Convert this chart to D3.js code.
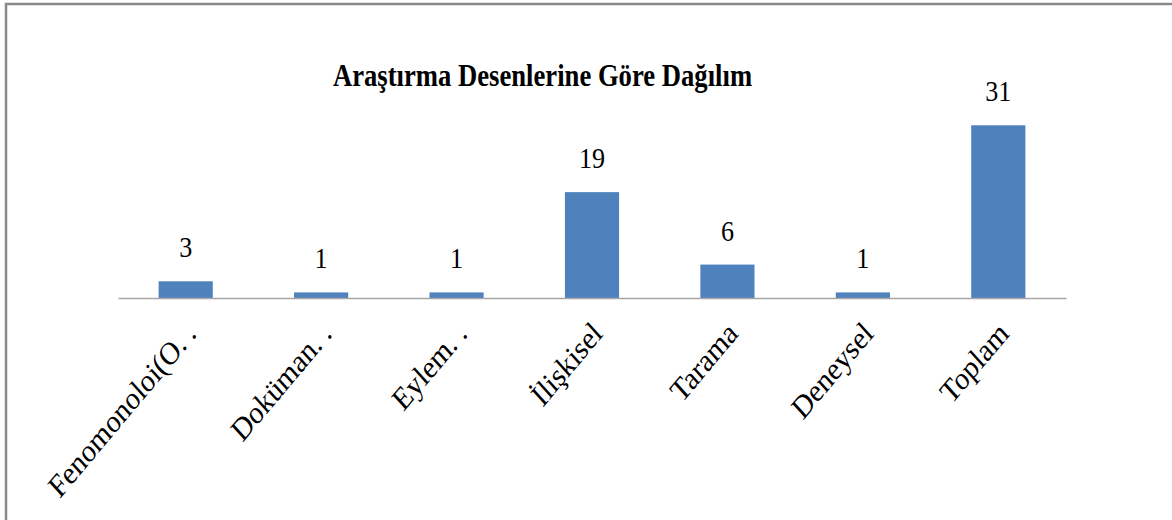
<!DOCTYPE html>
<html>
<head>
<meta charset="utf-8">
<script src="https://cdn.jsdelivr.net/npm/d3@7"></script>
<style>
  html, body { margin: 0; padding: 0; background: #ffffff; }
  svg { display: block; }
</style>
</head>
<body>
<svg id="chart" width="1172" height="520"></svg>
<script>
const title = "Araştırma Desenlerine Göre Dağılım";
const categories = ["Fenomonoloi(O. .", "Doküman. .", "Eylem. .", "İlişkisel", "Tarama", "Deneysel", "Toplam"];
const values = [3, 1, 1, 19, 6, 1, 31];

const svg = d3.select("#chart");
const W = 1172, H = 520;
const sx = 0.87; // horizontal compression of the reference's type

// outer frame (extends past the right and bottom edges)
svg.append("rect")
  .attr("x", 6).attr("y", 4)
  .attr("width", W + 20).attr("height", H + 20)
  .attr("fill", "none")
  .attr("stroke", "#8a8a8a")
  .attr("stroke-width", 2.5);

const x = d3.scaleBand().domain(categories).range([118, 1066])
  .paddingInner(0.6).paddingOuter(0.3);
const y = d3.scaleLinear().domain([0, 35]).range([298, 103]);

// bars
svg.append("g").selectAll("rect").data(values).join("rect")
  .attr("x", (d, i) => x(categories[i]))
  .attr("y", d => y(d))
  .attr("width", x.bandwidth())
  .attr("height", d => y(0) - y(d))
  .attr("fill", "#4f81bd");

// axis
const axis = d3.axisBottom(x).tickSize(0).tickFormat(() => "");
const ag = svg.append("g").attr("transform", `translate(0,${y(0)})`).call(axis);
ag.select(".domain").attr("stroke", "#a6a6a6").attr("stroke-width", 1.6);

// category labels rotated
const lab = svg.append("g").selectAll("g").data(categories).join("g")
  .attr("transform", d => `translate(${x(d) + x.bandwidth() / 2 + 12},335) scale(${sx},1) rotate(-46)`);
lab.append("text")
  .attr("text-anchor", "end")
  .attr("font-family", "'Liberation Serif', 'Times New Roman', serif")
  .attr("font-size", 32)
  .attr("fill", "#000")
  .text(d => d);

// value labels
const vl = svg.append("g").selectAll("g").data(values).join("g")
  .attr("transform", (d, i) => `translate(${x(categories[i]) + x.bandwidth() / 2},${y(d) - 24}) scale(${sx},1)`);
vl.append("text")
  .attr("text-anchor", "middle")
  .attr("font-family", "'Liberation Serif', 'Times New Roman', serif")
  .attr("font-size", 30)
  .attr("fill", "#000")
  .text(d => d);

// title
svg.append("g")
  .attr("transform", `translate(542.5,86) scale(0.86,1)`)
  .append("text")
  .attr("text-anchor", "middle")
  .attr("font-family", "'Liberation Serif', 'Times New Roman', serif")
  .attr("font-weight", "bold")
  .attr("font-size", 31)
  .attr("fill", "#000")
  .text(title);
</script>
</body>
</html>
